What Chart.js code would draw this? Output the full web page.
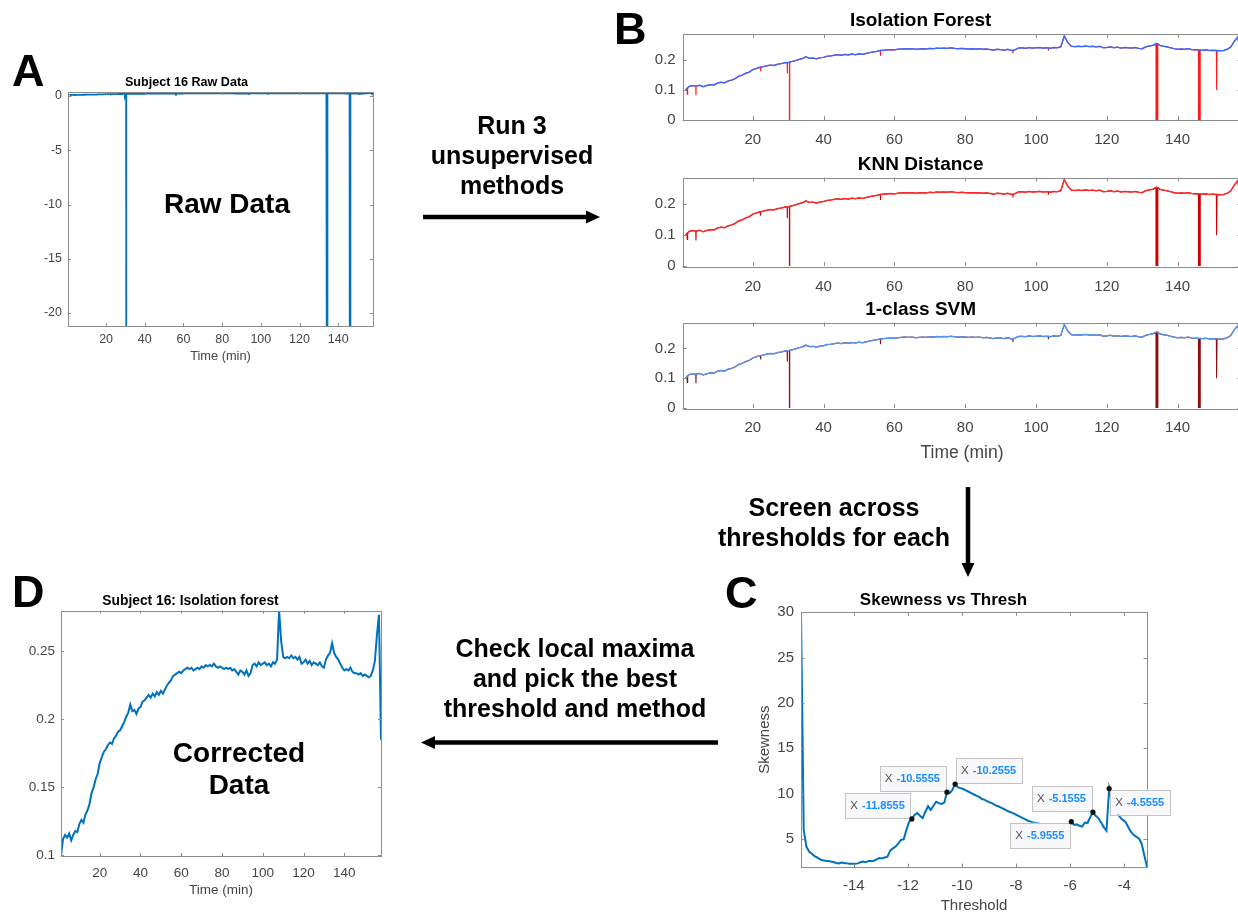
<!DOCTYPE html>
<html>
<head>
<meta charset="utf-8">
<script src="https://cdn.jsdelivr.net/npm/chart.js@4.4.1/dist/chart.umd.min.js"></script>
<style>
  html, body { margin: 0; padding: 0; width: 1238px; height: 916px; overflow: hidden; background: #fff; }
  body { position: relative; font-family: "Liberation Sans", Arial, Helvetica, sans-serif; }
  canvas { position: absolute; }
  .lbl { position: absolute; font-weight: bold; color: #000; white-space: nowrap; }
  .panel { font-size: 45px; line-height: 45px; }
  .note { font-size: 25px; line-height: 30px; text-align: center; transform: translateX(-50%); }
  .inplot { font-size: 28px; line-height: 32px; text-align: center; transform: translateX(-50%); }
  svg { position: absolute; left: 0; top: 0; }
</style>
</head>
<body>
<canvas id="chartA" width="441" height="300" style="left:0;top:70px"></canvas>
<canvas id="chartIF" width="724" height="150" style="left:600px;top:0"></canvas>
<canvas id="chartKNN" width="724" height="153" style="left:600px;top:143px"></canvas>
<canvas id="chartSVM" width="724" height="180" style="left:600px;top:288px"></canvas>
<canvas id="chartC" width="468" height="336" style="left:740px;top:580px"></canvas>
<canvas id="chartD" width="442" height="336" style="left:0;top:580px"></canvas>

<svg width="1238" height="916">
  <line x1="423" y1="217" x2="588" y2="217" stroke="#000" stroke-width="4.5"/>
  <polygon points="586,210.5 600,217 586,223.5" fill="#000"/>
  <line x1="968" y1="487" x2="968" y2="565" stroke="#000" stroke-width="4.5"/>
  <polygon points="961.5,563 968,577 974.5,563" fill="#000"/>
  <line x1="718" y1="742.5" x2="433" y2="742.5" stroke="#000" stroke-width="4.5"/>
  <polygon points="435,736 421,742.5 435,749" fill="#000"/>
</svg>

<div class="lbl panel" style="left:12px;top:48px">A</div>
<div class="lbl panel" style="left:614px;top:6px">B</div>
<div class="lbl panel" style="left:725px;top:570px">C</div>
<div class="lbl panel" style="left:12px;top:569px">D</div>

<div class="lbl note" style="left:512px;top:110px">Run 3<br>unsupervised<br>methods</div>
<div class="lbl note" style="left:834px;top:492px">Screen across<br>thresholds for each</div>
<div class="lbl note" style="left:575px;top:633px">Check local maxima<br>and pick the best<br>threshold and method</div>

<div class="lbl inplot" style="left:227px;top:188px">Raw Data</div>
<div class="lbl inplot" style="left:239px;top:737px">Corrected<br>Data</div>

<script>
// tick labels
const timeTicks = [20, 40, 60, 80, 100, 120, 140];
const rawTicks = [-20, -15, -10, -5, 0];
const methodTicks = [0, 0.1, 0.2];
const correctedTicks = [0.1, 0.15, 0.2, 0.25];
const threshTicks = [-14, -12, -10, -8, -6, -4];
const skewTicks = [5, 10, 15, 20, 25, 30];

// subject 16 signal, one value per minute starting at minute 1
const signalStart = 1;
const signal = [
  0.100, 0.112, 0.115, 0.113, 0.116, 0.111, 0.115, 0.118, 0.117, 0.123,
  0.126, 0.124, 0.130, 0.133, 0.138, 0.146, 0.150, 0.156, 0.160, 0.168,
  0.172, 0.176, 0.178, 0.181, 0.183, 0.182, 0.186, 0.188, 0.191, 0.192,
  0.195, 0.198, 0.202, 0.205, 0.211, 0.206, 0.207, 0.204, 0.208, 0.209,
  0.213, 0.214, 0.216, 0.218, 0.216, 0.219, 0.217, 0.220, 0.218, 0.221,
  0.219, 0.222, 0.225, 0.227, 0.229, 0.232, 0.233, 0.234, 0.235, 0.234,
  0.236, 0.237, 0.238, 0.237, 0.238, 0.236, 0.237, 0.238, 0.237, 0.239,
  0.238, 0.240, 0.239, 0.240, 0.239, 0.241, 0.239, 0.238, 0.239, 0.238,
  0.237, 0.238, 0.237, 0.238, 0.236, 0.237, 0.235, 0.233, 0.236, 0.235,
  0.233, 0.236, 0.232, 0.234, 0.240, 0.241, 0.239, 0.242, 0.240, 0.241,
  0.242, 0.240, 0.241, 0.239, 0.242, 0.241, 0.244, 0.280, 0.258, 0.246,
  0.245, 0.246, 0.245, 0.247, 0.245, 0.246, 0.244, 0.246, 0.241, 0.242,
  0.244, 0.241, 0.243, 0.240, 0.242, 0.241, 0.240, 0.242, 0.239, 0.238,
  0.244, 0.247, 0.249, 0.256, 0.249, 0.246, 0.244, 0.241, 0.238, 0.236,
  0.237, 0.236, 0.238, 0.235, 0.234, 0.234, 0.233, 0.234, 0.232, 0.233,
  0.232, 0.231, 0.232, 0.236, 0.243, 0.262, 0.277, 0.185
];

// artefacts present only in the raw recording
const outlierTimes = [
  1.4, 1.5, 1.6, 3.9, 3.95, 4.05, 22.1, 22.2, 22.3, 29.7, 29.75, 29.8,
  30.35, 30.4, 30.45, 56.05, 56.1, 56.15, 93.45, 93.5, 93.55, 103.45, 103.5, 103.55,
  133.9, 133.95, 134.15, 134.2, 134.4, 134.45, 145.9, 145.95, 146.15, 146.2, 146.35, 146.4,
  150.95, 151.05, 151.15, 157.4, 157.5, 157.6
];
const outlierValues = [
  0.106, 0.086, 0.108, 0.113, 0.083, 0.114, 0.176, 0.163, 0.176, 0.191, 0.155, 0.191,
  0.193, -22.5, 0.193, 0.232, 0.214, 0.232, 0.233, 0.222, 0.233, 0.241, 0.231, 0.241,
  0.252, -22.5, -22.5, 0.256, -22.5, 0.255, 0.234, -22.5, -22.5, 0.234, -22.5, 0.234,
  0.232, 0.100, 0.232, 0.265, 0.160, 0.250
];

// skewness screen, thresholds from -15.9555 in steps of 0.1
const skewStart = -15.9555;
const skewStep = 0.1;
const skewness = [
  30.0, 6.0, 4.15, 3.6, 3.35, 3.1, 2.95, 2.75, 2.65, 2.6,
  2.57, 2.5, 2.45, 2.35, 2.3, 2.4, 2.35, 2.3, 2.25, 2.25,
  2.25, 2.3, 2.42, 2.5, 2.42, 2.57, 2.57, 2.6, 2.75, 2.9,
  2.85, 2.95, 3.05, 3.7, 3.95, 4.15, 4.5, 4.9, 4.95, 6.0,
  6.9, 7.2, 7.65, 7.85, 7.55, 7.3, 8.0, 8.6, 8.2, 8.65,
  9.1, 8.95, 8.85, 9.0, 10.15, 10.05, 10.4, 11.05, 10.7, 10.6,
  10.5, 10.35, 10.2, 10.05, 9.9, 9.75, 9.6, 9.4, 9.3, 9.15,
  9.0, 8.9, 8.7, 8.6, 8.45, 8.3, 8.15, 8.0, 7.9, 7.75,
  7.6, 7.45, 7.3, 7.15, 7.0, 6.9, 6.8, 6.75, 6.7, 6.6,
  6.55, 6.5, 6.45, 6.4, 6.35, 6.3, 6.3, 6.25, 6.2, 6.1,
  6.9, 6.55, 6.6, 6.45, 6.35, 6.8, 6.75, 7.4, 7.95, 7.55,
  7.3, 6.8, 6.3, 5.9, 10.55, 9.1, 8.2, 7.85, 7.4, 7.1,
  6.9, 6.35, 5.8, 5.45, 5.25, 5.05, 4.5, 3.2, 1.9
];
const tipThresholds = [-11.8555, -10.5555, -10.2555, -5.9555, -5.1555, -4.5555];
const tipPlacement = ['ul', 'ul', 'ur', 'll', 'ul', 'lr'];

const FONT = '"Liberation Sans", Arial, Helvetica, sans-serif';
const TICK_COLOR = '#454545';

const cleanPts = signal.map((v, i) => ({ x: signalStart + i, y: v }));
const rawPts = cleanPts
  .concat(outlierTimes.map((t, i) => ({ x: t, y: outlierValues[i] })))
  .sort((a, b) => a.x - b.x);
const skewPts = skewness.map((v, i) => ({ x: +(skewStart + i * skewStep).toFixed(4), y: v }));

// matlab style box with inward ticks on all four sides
const matlabBox = {
  id: 'matlabBox',
  afterDatasetsDraw(chart, args, opts) {
    const { ctx, chartArea: a, scales: { x, y } } = chart;
    const len = opts.tickLen || 4;
    ctx.save();
    ctx.strokeStyle = '#8c8c8c';
    ctx.lineWidth = 1;
    ctx.beginPath();
    x.ticks.forEach(t => {
      const px = Math.round(x.getPixelForValue(t.value)) + 0.5;
      ctx.moveTo(px, a.bottom); ctx.lineTo(px, a.bottom - len);
      ctx.moveTo(px, a.top); ctx.lineTo(px, a.top + len);
    });
    y.ticks.forEach(t => {
      const py = Math.round(y.getPixelForValue(t.value)) + 0.5;
      ctx.moveTo(a.left, py); ctx.lineTo(a.left + len, py);
      ctx.moveTo(a.right, py); ctx.lineTo(a.right - len, py);
    });
    ctx.stroke();
    ctx.strokeRect(Math.round(a.left) + 0.5, Math.round(a.top) + 0.5,
      Math.round(a.right - a.left), Math.round(a.bottom - a.top));
    ctx.restore();
  }
};

// data tips on the skewness curve
const dataTips = {
  id: 'dataTips',
  afterDatasetsDraw(chart) {
    const { ctx, scales: { x, y } } = chart;
    ctx.save();
    tipThresholds.forEach((th, k) => {
      const idx = Math.round((th - skewStart) / skewStep);
      const px = x.getPixelForValue(th);
      const py = y.getPixelForValue(skewness[idx]);
      const valTxt = th.toFixed(4);
      ctx.font = '11.5px ' + FONT;
      const wX = ctx.measureText('X').width;
      ctx.font = 'bold 11px ' + FONT;
      const wV = ctx.measureText(valTxt).width;
      const w = 5 + wX + 4 + wV + 6;
      const h = 25;
      const pl = tipPlacement[k];
      const bx = pl[1] === 'l' ? px - w - 1 : px + 1;
      const by = pl[0] === 'u' ? py - h - 1 : py + 1;
      ctx.fillStyle = '#f8f8fb';
      ctx.strokeStyle = '#c4c4c8';
      ctx.lineWidth = 1;
      ctx.fillRect(bx, by, w, h);
      ctx.strokeRect(Math.round(bx) + 0.5, Math.round(by) + 0.5, Math.round(w), h);
      ctx.textBaseline = 'middle';
      ctx.textAlign = 'left';
      ctx.font = '11.5px ' + FONT;
      ctx.fillStyle = '#505050';
      ctx.fillText('X', bx + 5, by + h / 2 + 0.5);
      ctx.font = 'bold 11px ' + FONT;
      ctx.fillStyle = '#1a8cff';
      ctx.fillText(valTxt, bx + 5 + wX + 4, by + h / 2 + 0.5);
      ctx.fillStyle = '#111';
      ctx.beginPath();
      ctx.arc(px, py, 2.6, 0, Math.PI * 2);
      ctx.fill();
    });
    ctx.restore();
  }
};

function xAxis(o) {
  return {
    type: 'linear', min: o.min, max: o.max,
    afterBuildTicks: ax => { ax.ticks = o.ticks.map(v => ({ value: v })); },
    afterFit: ax => { ax.height = o.size; },
    grid: { display: false, drawTicks: false },
    border: { display: false },
    ticks: { autoSkip: false, maxRotation: 0, padding: o.pad, color: TICK_COLOR,
             font: { family: FONT, size: o.font }, callback: v => String(v) },
    title: o.title
      ? { display: true, text: o.title, color: TICK_COLOR, font: { family: FONT, size: o.titleFont },
          padding: { top: 0, bottom: o.titlePad } }
      : { display: false }
  };
}

function yAxis(o) {
  return {
    type: 'linear', min: o.min, max: o.max,
    afterBuildTicks: ax => { ax.ticks = o.ticks.map(v => ({ value: v })); },
    afterFit: ax => { ax.width = o.size; },
    grid: { display: false, drawTicks: false },
    border: { display: false },
    ticks: { autoSkip: false, padding: o.pad, color: TICK_COLOR,
             font: { family: FONT, size: o.font }, callback: v => String(v) },
    title: o.title
      ? { display: true, text: o.title, color: TICK_COLOR, font: { family: FONT, size: o.titleFont },
          padding: { top: o.titlePad, bottom: 0 } }
      : { display: false }
  };
}

function makeChart(id, datasets, o) {
  return new Chart(document.getElementById(id), {
    type: 'line',
    data: { datasets },
    options: {
      responsive: false,
      animation: false,
      devicePixelRatio: 1,
      events: [],
      layout: { padding: { left: 0, right: o.right, top: 0, bottom: 0 } },
      elements: { point: { radius: 0 }, line: { tension: 0 } },
      scales: { x: xAxis(o.x), y: yAxis(o.y) },
      plugins: {
        legend: { display: false },
        tooltip: { enabled: false },
        title: { display: true, text: o.title, color: '#000',
                 font: { family: FONT, size: o.titleFont, weight: 'bold' },
                 padding: { top: o.titleTop, bottom: o.titleBottom } },
        matlabBox: { tickLen: o.tickLen }
      }
    },
    plugins: o.plugins || [matlabBox]
  });
}

// A: raw data
makeChart('chartA', [
  { data: rawPts, borderColor: '#0072BD', borderWidth: 1.8 }
], {
  right: 68, title: 'Subject 16 Raw Data', titleFont: 12.6, titleTop: 5.4, titleBottom: 1.5, tickLen: 3,
  x: { min: 0.3, max: 158, ticks: timeTicks, size: 44, pad: 6.5, font: 12.5, title: 'Time (min)', titleFont: 12.8, titlePad: 6.3 },
  y: { min: -21.2, max: 0.37, ticks: rawTicks, size: 68, pad: 6, font: 12.5 }
});

// B: three detectors, flagged points underneath the kept signal
const methods = [
  { id: 'chartIF', title: 'Isolation Forest', flag: '#ff1a1a', keep: '#3a68ff', top: 9.3, bottom: 1.9, pad: 11, size: 30 },
  { id: 'chartKNN', title: 'KNN Distance', flag: '#cc0000', keep: '#ff2a2a', top: 10.6, bottom: 1.1, pad: 11.7, size: 30 },
  { id: 'chartSVM', title: '1-class SVM', flag: '#8b1010', keep: '#5596ee', top: 10.6, bottom: 1.1, pad: 11, size: 60, xTitle: 'Time (min)' }
];
methods.forEach(m => {
  makeChart(m.id, [
    { data: cleanPts, borderColor: m.keep, borderWidth: 1.4, order: 1 },
    { data: rawPts, borderColor: m.flag, borderWidth: 1.1, order: 2 }
  ], {
    right: 82.7, title: m.title, titleFont: 19, titleTop: m.top, titleBottom: m.bottom, tickLen: 4,
    x: { min: 0.2, max: 158, ticks: timeTicks, size: m.size, pad: m.pad, font: 15,
         title: m.xTitle, titleFont: 17.5, titlePad: 4.5 },
    y: { min: 0, max: 0.287, ticks: methodTicks, size: 82.7, pad: 7, font: 15 }
  });
});

// C: skewness vs threshold
makeChart('chartC', [
  { data: skewPts, borderColor: '#0072BD', borderWidth: 2 }
], {
  right: 61, title: 'Skewness vs Thresh', titleFont: 17, titleTop: 9.8, titleBottom: 2.1, tickLen: 3.5,
  plugins: [matlabBox, dataTips],
  x: { min: -15.9555, max: -3.1555, ticks: threshTicks, size: 49, pad: 10, font: 15, title: 'Threshold', titleFont: 15, titlePad: 1 },
  y: { min: 1.9, max: 30, ticks: skewTicks, size: 61, pad: 7, font: 15, title: 'Skewness', titleFont: 15, titlePad: 16 }
});

// D: corrected data
makeChart('chartD', [
  { data: cleanPts, borderColor: '#0072BD', borderWidth: 2 }
], {
  right: 61, title: 'Subject 16: Isolation forest', titleFont: 13.8, titleTop: 12.7, titleBottom: 1.4, tickLen: 3,
  x: { min: 1, max: 158, ticks: timeTicks, size: 60, pad: 9.2, font: 13.5, title: 'Time (min)', titleFont: 13.5, titlePad: 17.2 },
  y: { min: 0.0995, max: 0.28, ticks: correctedTicks, size: 61, pad: 6, font: 13.5 }
});
</script>
</body>
</html>
